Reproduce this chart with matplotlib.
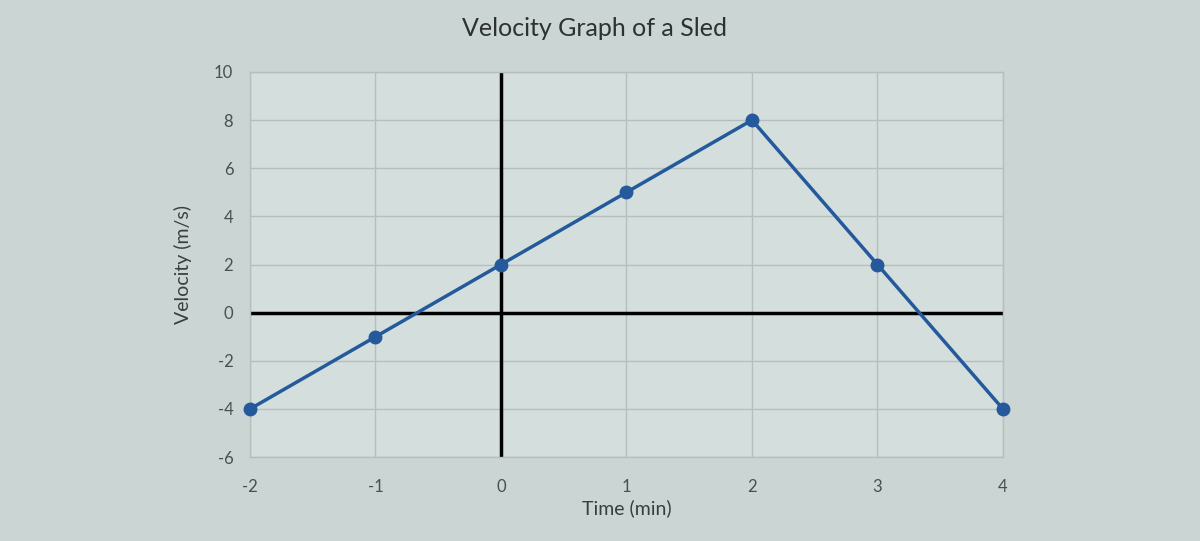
import matplotlib.pyplot as plt

# data
time_min = [-2, -1, 0, 1, 2, 3, 4]
velocity = [-4, -1, 2, 5, 8, 2, -4]
x_ticks = [-2, -1, 0, 1, 2, 3, 4]
y_ticks = [-6, -4, -2, 0, 2, 4, 6, 8, 10]

plt.rcParams['font.family'] = ['Lato', 'DejaVu Sans']
plt.rcParams['axes.unicode_minus'] = False

fig = plt.figure(figsize=(12, 5.41), dpi=100, facecolor='#cbd5d3')
ax = fig.add_axes([0.2083, 0.155, 0.6275, 0.712])
ax.set_facecolor('#d4dedc')

ax.set_xlim(-2, 4)
ax.set_ylim(-6, 10)
ax.set_xticks(x_ticks)
ax.set_yticks(y_ticks)
ax.grid(True, color='#b6bfbe', linewidth=1.0)
ax.set_axisbelow(True)
for s in ax.spines.values():
    s.set_color('#b6bfbe')
    s.set_linewidth(1.0)
ax.tick_params(length=0, labelsize=12, labelcolor='#4a4f50')
ax.tick_params(axis='x', pad=16)
ax.tick_params(axis='y', pad=12)

# black axes through the origin
ax.axhline(0, color='black', linewidth=2.5, zorder=2)
ax.axvline(0, color='black', linewidth=2.5, zorder=2)

ax.plot(time_min, velocity, color='#245a9c', linewidth=2.5,
        marker='o', markersize=9, zorder=3, clip_on=False)

fig.text(0.495, 0.948, 'Velocity Graph of a Sled', fontsize=18,
         color='#2e3133', ha='center', va='center')
ax.set_xlabel('Time (min)', fontsize=14, color='#3a3e40', labelpad=3)
ax.set_ylabel('Velocity (m/s)', fontsize=14, color='#3a3e40', labelpad=16)

fig.savefig('out.png', dpi=100, facecolor=fig.get_facecolor())
